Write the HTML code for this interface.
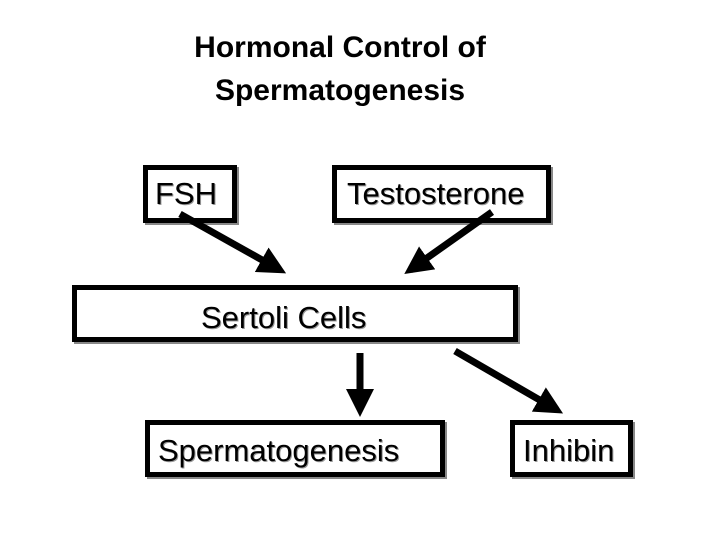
<!DOCTYPE html>
<html><head><style>
body{margin:0;width:720px;height:540px;background:#fff;overflow:hidden;position:relative;font-family:"Liberation Sans",Arial,sans-serif}
.t{position:absolute;left:0;width:680px;text-align:center;font-weight:bold;font-size:30px;line-height:43px}
.b{position:absolute;box-sizing:border-box;border:5px solid #000;box-shadow:2px 2px 0 #888;background:#fff;font-size:31px;text-shadow:1px 1px 0 #999;white-space:nowrap}
</style></head><body>
<div class="t" style="top:26px">Hormonal Control of<br>Spermatogenesis</div>
<div class="b" style="left:143px;top:165px;width:94px;height:58px;padding:6px 0 0 7px">FSH</div>
<div class="b" style="left:332px;top:165px;width:219px;height:58px;padding:6px 0 0 10px">Testosterone</div>
<div class="b" style="left:72px;top:285px;width:446px;height:57px;padding:10px 0 0 124px">Sertoli Cells</div>
<div class="b" style="left:145px;top:420px;width:300px;height:57px;padding:8px 0 0 8px">Spermatogenesis</div>
<div class="b" style="left:510px;top:420px;width:123px;height:57px;padding:8px 0 0 8px">Inhibin</div>
<svg width="720" height="540" style="position:absolute;left:0;top:0">
<defs><marker id="a" markerWidth="4" markerHeight="4" refX="3" refY="2" orient="auto"><path d="M0,0L4,2L0,4z" fill="#000"/></marker></defs>
<g stroke="#000" stroke-width="7" marker-end="url(#a)">
<line x1="180" y1="214" x2="280" y2="270"/>
<line x1="492" y1="212" x2="410" y2="270"/>
<line x1="360" y1="353" x2="360" y2="410"/>
<line x1="455" y1="351" x2="557" y2="410"/>
</g></svg>
</body></html>
